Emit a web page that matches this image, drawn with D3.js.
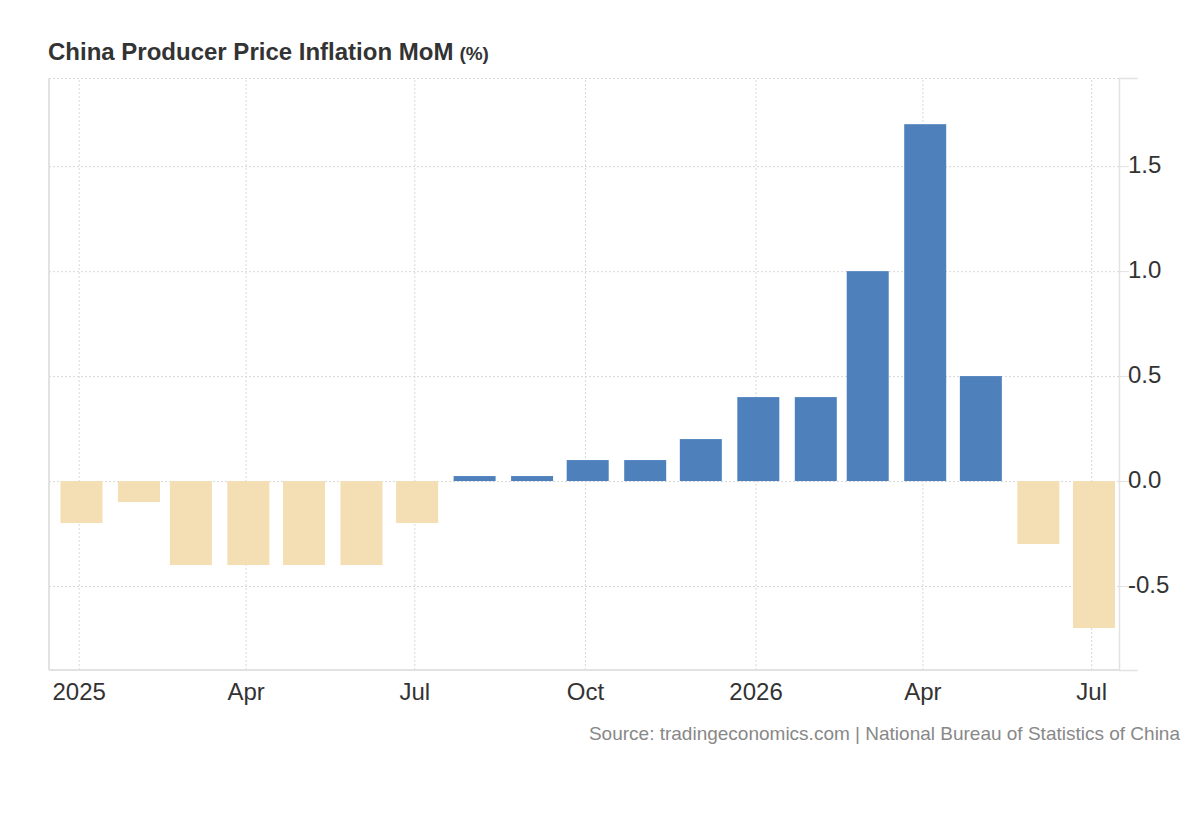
<!DOCTYPE html>
<html>
<head>
<meta charset="utf-8">
<script src="https://cdn.jsdelivr.net/npm/d3@7"></script>
<style>
  body { margin: 0; background: #fff; }
  svg { font-family: "Liberation Sans", Arial, sans-serif; }
  .grid line { stroke: #d8d8d8; stroke-dasharray: 2,2; }
  .grid path { display: none; }
</style>
</head>
<body>
<div id="chart"></div>
<script>
// Data
const months = ["2025-01","2025-02","2025-03","2025-04","2025-05","2025-06","2025-07",
                "2025-08","2025-09","2025-10","2025-11","2025-12",
                "2026-01","2026-02","2026-03","2026-04","2026-05","2026-06","2026-07"];
const values = [-0.2,-0.1,-0.4,-0.4,-0.4,-0.4,-0.2,
                 0.0, 0.0, 0.1, 0.1, 0.2,
                 0.4, 0.4, 1.0, 1.7, 0.5,-0.3,-0.7];
const yTicks = [-0.5, 0, 0.5, 1.0, 1.5];
const monthNames = ["Jan","Feb","Mar","Apr","May","Jun","Jul","Aug","Sep","Oct","Nov","Dec"];

const parse = d3.timeParse("%Y-%m");
const data = months.map((m, i) => ({date: parse(m), value: values[i]}));

// Dimensions
const W = 1200, H = 820;
const plot = {left: 49, right: 1119, top: 78, bottom: 670};
const barWidth = 42, minBar = 5, barShiftHours = 36;

const svg = d3.select("#chart")
  .append("svg")
    .attr("width", W)
    .attr("height", H);

// Scales
const x = d3.scaleTime()
  .domain([new Date(2024, 11, 16), new Date(2026, 6, 16)])
  .range([plot.left, plot.right]);

const y = d3.scaleLinear()
  .domain([-0.9, 1.92])
  .range([plot.bottom, plot.top]);

// Vertical gridlines
svg.append("g")
  .attr("class", "grid")
  .attr("transform", `translate(0,${plot.bottom})`)
  .call(d3.axisBottom(x).ticks(d3.timeMonth.every(3))
    .tickSize(-(plot.bottom - plot.top)).tickFormat(""));

// Horizontal gridlines (plus top border)
svg.append("g")
  .attr("class", "grid")
  .attr("transform", `translate(${plot.left},0)`)
  .call(d3.axisLeft(y).tickValues(yTicks.concat(y.domain()[1]))
    .tickSize(-(plot.right - plot.left)).tickFormat(""));

// Bars
const cx = d => x(d3.timeHour.offset(d.date, barShiftHours));
svg.selectAll(".bar")
  .data(data)
  .enter().append("rect")
    .attr("class", "bar")
    .attr("x", d => cx(d) - barWidth / 2)
    .attr("width", barWidth)
    .attr("y", d => d.value >= 0 ? Math.min(y(d.value), y(0) - minBar) : y(0))
    .attr("height", d => Math.max(Math.abs(y(d.value) - y(0)), minBar))
    .attr("fill", d => d.value >= 0 ? "#4e80bc" : "#f4deb3");

// Left border line
svg.append("line")
  .attr("x1", plot.left).attr("x2", plot.left)
  .attr("y1", plot.top).attr("y2", plot.bottom)
  .attr("stroke", "#e2e2e2").attr("stroke-width", 2);

// Bottom axis line
svg.append("line")
  .attr("x1", plot.left).attr("x2", plot.right)
  .attr("y1", plot.bottom).attr("y2", plot.bottom)
  .attr("stroke", "#e2e2e2").attr("stroke-width", 2);

// X axis labels
const xAxis = svg.append("g")
  .attr("transform", `translate(0,${plot.bottom})`)
  .call(d3.axisBottom(x).ticks(d3.timeMonth.every(3)).tickSize(0).tickPadding(13)
    .tickFormat(d => d.getMonth() === 0 ? d.getFullYear() : monthNames[d.getMonth()]));
xAxis.select(".domain").remove();
xAxis.selectAll("text")
  .attr("fill", "#333")
  .style("font-size", "24px");

// Right Y axis
const yAxis = svg.append("g")
  .attr("transform", `translate(${plot.right},0)`)
  .call(d3.axisRight(y).tickValues(yTicks).tickSize(10).tickSizeOuter(19).tickPadding(-1)
    .tickFormat(d => d.toFixed(1)));
yAxis.select(".domain").attr("stroke", "#e2e2e2").attr("stroke-width", 1.5);
yAxis.selectAll(".tick line").attr("stroke", "#e2e2e2");
yAxis.selectAll("text")
  .attr("fill", "#333")
  .attr("dy", "0.25em")
  .style("font-size", "24px");

// Title
const title = svg.append("text")
  .attr("x", 48)
  .attr("y", 60)
  .attr("fill", "#333")
  .style("font-weight", "bold")
  .style("font-size", "24px")
  .text("China Producer Price Inflation MoM");
title.append("tspan")
  .attr("dx", 6)
  .style("font-size", "19px")
  .text("(%)");

// Source
svg.append("text")
  .attr("x", 1180)
  .attr("y", 740)
  .attr("text-anchor", "end")
  .attr("fill", "#888")
  .style("font-size", "19px")
  .text("Source: tradingeconomics.com | National Bureau of Statistics of China");
</script>
</body>
</html>
